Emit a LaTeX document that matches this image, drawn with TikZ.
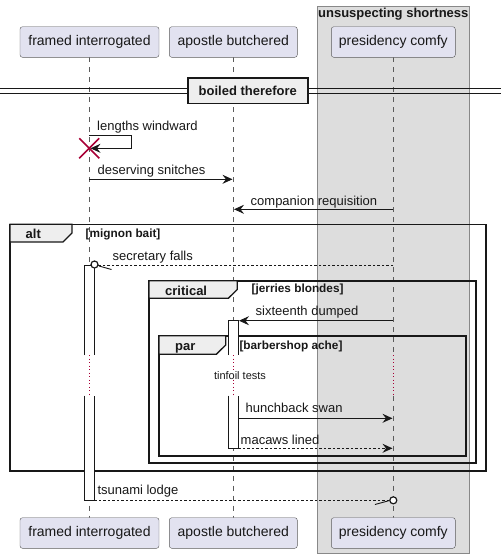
\documentclass[tikz,border=0pt]{standalone}
\usepackage{fontspec}
\setmainfont{Liberation Sans}
\usetikzlibrary{arrows.meta}
\definecolor{partfill}{HTML}{E2E2F0}
\definecolor{partdraw}{HTML}{5B5B5B}
\definecolor{grpfill}{HTML}{DDDDDD}
\definecolor{grpdraw}{HTML}{888888}
\definecolor{tabfill}{HTML}{EEEEEE}
\definecolor{ink}{HTML}{181818}
\definecolor{killred}{HTML}{A80036}
\tikzset{
  part/.style={draw=partdraw, fill=partfill, rounded corners=2.5pt, minimum height=30.6pt, inner sep=0pt, font=\fontsize{14}{16}\selectfont, text=ink},
  lifeline/.style={draw=partdraw, dash pattern=on 5pt off 5pt, line width=0.6pt},
  delayline/.style={draw=killred, dash pattern=on 1pt off 2.5pt, line width=0.6pt},
  msg/.style={draw=ink, line width=0.9pt, -{Stealth[length=10pt,width=9pt,inset=3.5pt]}},
  dmsg/.style={msg, dash pattern=on 2.5pt off 2pt},
  lbl/.style={anchor=base west, inner sep=0pt, font=\fontsize{13}{15}\selectfont, text=ink},
  frm/.style={draw=ink, line width=1.6pt},
  tab/.style={draw=ink, fill=tabfill, line width=1.3pt},
  tabtxt/.style={anchor=base west, inner sep=0pt, font=\bfseries\fontsize{13}{15}\selectfont, text=ink},
  cond/.style={anchor=base west, inner sep=0pt, font=\bfseries\fontsize{11.8}{13}\selectfont, text=ink},
  actbar/.style={draw=ink, fill=white, line width=0.9pt},
}
\begin{document}
\begin{tikzpicture}[x=1pt,y=-1pt]
\useasboundingbox (0,0) rectangle (501,558);
% group box
\draw[draw=grpdraw, fill=grpfill, line width=0.8pt] (317.3,6) rectangle (469.3,553.3);
\node[anchor=base, inner sep=0pt, font=\bfseries\fontsize{13}{15}\selectfont, text=ink] (grptitle) at (393.3,17.5) {unsuspecting shortness};
% coordinates
\coordinate (fiT) at (89.3,57.3); \coordinate (fiB) at (89.3,517.7);
\coordinate (abT) at (233.3,57.3); \coordinate (abB) at (233.3,517.7);
\coordinate (pcT) at (393.3,57.3); \coordinate (pcB) at (393.3,517.7);
% lifelines
\foreach \x in {89.3,233.3,393.3}{
  \draw[lifeline] (\x,57.3) -- (\x,355);
  \draw[delayline] (\x,355) -- (\x,395.7);
  \draw[lifeline] (\x,395.7) -- (\x,517.7);
}
% divider
\draw[draw=ink, line width=0.9pt] (0,88.6) -- (501,88.6);
\draw[draw=ink, line width=0.9pt] (0,93.2) -- (501,93.2);
\node[draw=ink, fill=tabfill, line width=1.6pt, minimum width=120pt, minimum height=25.5pt, inner sep=0pt, font=\bfseries\fontsize{13}{15}\selectfont, text=ink] (divider) at (247.8,90.9) {boiled therefore};
% frames
\draw[frm] (10,224.3) rectangle (485.7,470.7);
\draw[tab] (10,224.3) -- (72,224.3) -- (72,233) -- (63,242) -- (10,242) -- cycle;
\node[tabtxt] (alttxt) at (25.5,238) {alt};
\node[cond] (altcond) at (85.5,237.8) {[mignon bait]};
\draw[frm] (149,280.7) rectangle (475.7,463);
\draw[tab] (149,280.7) -- (237.3,280.7) -- (237.3,289.5) -- (228.3,298.3) -- (149,298.3) -- cycle;
\node[tabtxt] (crittxt) at (165,295) {critical};
\node[cond] (critcond) at (251.5,292.7) {[jerries blondes]};
\draw[frm] (159,335.7) rectangle (465.7,455.7);
\draw[tab] (159,335.7) -- (225.7,335.7) -- (225.7,345) -- (216.3,354.3) -- (159,354.3) -- cycle;
\node[tabtxt] (partxt) at (175,350) {par};
\node[cond] (parcond) at (239.3,349) {[barbershop ache]};
% activation bars
\fill[white] (84.3,265) rectangle (94.3,355);
\fill[white] (84.3,395.7) rectangle (94.3,500.3);
\draw[actbar] (84.3,355) -- (84.3,265) -- (94.3,265) -- (94.3,355);
\draw[actbar] (84.3,395.7) -- (84.3,500.3) -- (94.3,500.3) -- (94.3,395.7);
\fill[white] (228.3,320.7) rectangle (238.3,355);
\fill[white] (228.3,395.7) rectangle (238.3,448.3);
\draw[actbar] (228.3,355) -- (228.3,320.7) -- (238.3,320.7) -- (238.3,355);
\draw[actbar] (228.3,395.7) -- (228.3,448.3) -- (238.3,448.3) -- (238.3,395.7);
% delay text
\node[anchor=base, inner sep=0pt, font=\fontsize{11}{13}\selectfont, text=ink, fill=white] (delay) at (240,379) {tinfoil tests};
% messages
\coordinate (s1) at (89.3,135.3); \coordinate (s2) at (131.7,135.3); \coordinate (s3) at (131.7,148.3); \coordinate (s4) at (90.5,148.3);
\draw[msg] (s1) -- (s2) -- (s3) -- (s4);
\node[lbl] (l1) at (97,130.7) {lengths windward};
\draw[draw=killred, line width=1.6pt] (79.3,138.3) -- (99.3,158.3) (79.3,158.3) -- (99.3,138.3);
\coordinate (killx) at (89.3,148.3);
\coordinate (m2a) at (89.3,179.3); \coordinate (m2b) at (232.5,179.3);
\draw[msg] (m2a) -- (m2b);
\node[lbl] (l2) at (97.5,174) {deserving snitches};
\coordinate (m3a) at (393.3,209.3); \coordinate (m3b) at (234,209.3);
\draw[msg] (m3a) -- (m3b);
\node[lbl] (l3) at (250.5,205) {companion requisition};
% secretary falls
\coordinate (m4a) at (393.3,265); \coordinate (m4b) at (98,265);
\draw[draw=ink, line width=0.9pt, dash pattern=on 2.5pt off 2pt] (m4a) -- (m4b);
\node[draw=ink, line width=1.2pt, circle, minimum size=7pt, inner sep=0pt, fill=white] (c4) at (94.5,264.5) {};
\draw[draw=ink, line width=0.9pt] (99,266) -- (111.5,269.5);
\node[lbl] (l4) at (112.5,260) {secretary falls};
% sixteenth dumped
\coordinate (m5a) at (393.3,320.7); \coordinate (m5b) at (239,320.7);
\draw[msg] (m5a) -- (m5b);
\node[lbl] (l5) at (255.5,315.7) {sixteenth dumped};
% hunchback swan
\coordinate (m6a) at (238.3,418.3); \coordinate (m6b) at (392.5,418.3);
\draw[msg] (m6a) -- (m6b);
\node[lbl] (l6) at (245.5,412.7) {hunchback swan};
% macaws lined
\coordinate (m7a) at (238.3,448.3); \coordinate (m7b) at (392.5,448.3);
\draw[dmsg] (m7a) -- (m7b);
\node[lbl] (l7) at (240.5,444) {macaws lined};
% tsunami lodge
\coordinate (m8a) at (94.3,500.3); \coordinate (m8b) at (389.5,500.3);
\draw[draw=ink, line width=0.9pt, dash pattern=on 2.5pt off 2pt] (m8a) -- (m8b);
\node[draw=ink, line width=1.2pt, circle, minimum size=7pt, inner sep=0pt, fill=white] (c8) at (393.3,500.3) {};
\draw[draw=ink, line width=0.9pt] (375,504.5) -- (388.5,500.8);
\node[lbl] (l8) at (97.3,494.3) {tsunami lodge};
% participants
\node[part, minimum width=139pt] (fi) at (89.5,42) {framed interrogated};
\node[part, minimum width=128pt] (ab) at (233.3,42) {apostle butchered};
\node[part, minimum width=124pt] (pc) at (393.3,42) {presidency comfy};
\node[part, minimum width=139pt] (fi2) at (89.5,533) {framed interrogated};
\node[part, minimum width=128pt] (ab2) at (233.3,533) {apostle butchered};
\node[part, minimum width=124pt] (pc2) at (393.3,533) {presidency comfy};
\end{tikzpicture}
\end{document}
